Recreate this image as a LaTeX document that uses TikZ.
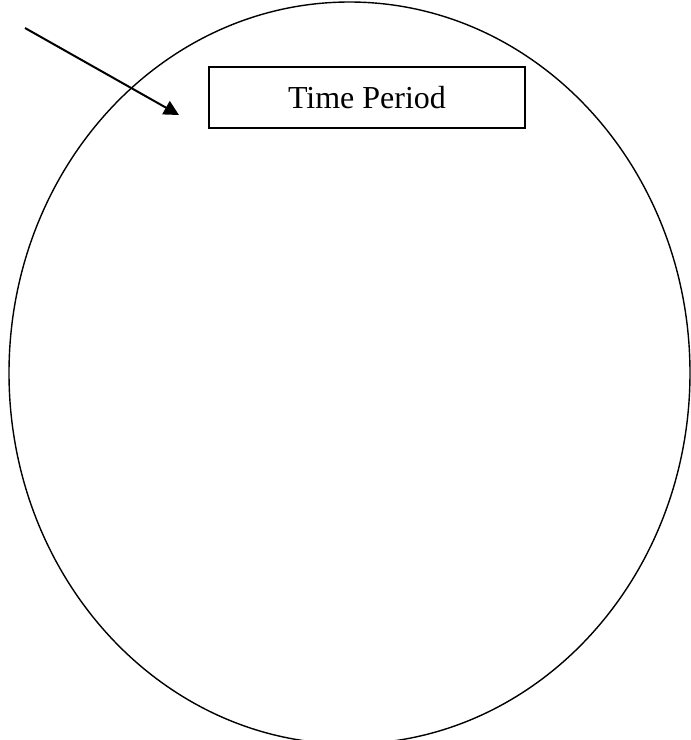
\documentclass[tikz,border=0pt]{standalone}
\usepackage{fontspec}
\setmainfont{Liberation Serif}
\usetikzlibrary{arrows.meta}
\begin{document}
\begin{tikzpicture}[x=1pt,y=-1pt,
  labelbox/.style={draw, line width=1.8pt, minimum width=316pt, minimum height=61pt, inner sep=0pt, font=\fontsize{32}{37}\selectfont},
  pointer/.style={line width=2pt, -{Triangle[length=15pt,width=15pt]}}]
\useasboundingbox (0,0) rectangle (691,740);
\draw[line width=1.4pt] (349.5,373) ellipse [x radius=340.5, y radius=371];
\node[labelbox] (tp) at (367,97.8) {Time Period};
\coordinate (ps) at (25,28);
\coordinate (pe) at (179,115);
\draw[pointer] (ps) -- (pe);
\end{tikzpicture}
\end{document}
